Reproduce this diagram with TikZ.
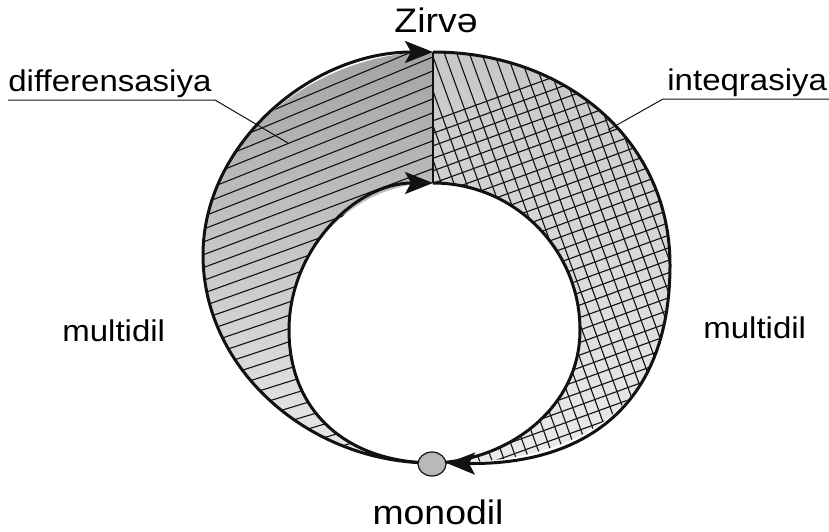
\documentclass[tikz,border=0pt]{standalone}
\usepackage{fontspec}
\setmainfont{Liberation Sans}
\usepackage{graphicx}
\usetikzlibrary{arrows.meta}
\definecolor{tinte}{HTML}{111111}
\definecolor{dunkel}{HTML}{A2A2A2}
\definecolor{mittel}{HTML}{C6C6C6}
\definecolor{hell}{HTML}{EBEBEB}
\newcommand{\breit}[1]{\scalebox{1.1}[1]{#1}}
\tikzset{
  kontur/.style={tinte,line width=1.5pt},
  teiler/.style={tinte,line width=1pt},
  schraff/.style={tinte,line width=0.55pt},
  pfeil/.style={-{Stealth[length=14pt,width=11pt,inset=3pt]}},
  hilf/.style={tinte,line width=0.5pt},
  beschr/.style={font=\fontsize{15}{18}\selectfont,inner sep=0pt,anchor=base west},
  titel/.style={font=\fontsize{17}{20}\selectfont,inner sep=0pt,anchor=base},
}

\begin{document}
\begin{tikzpicture}[x=0.5pt,y=-0.5pt]
  \useasboundingbox (0,0) rectangle (829,531);
  \coordinate (T) at (433,52);
  \coordinate (I) at (433,183);
  \coordinate (B) at (432,463);
  \coordinate (OL) at (203,255);
  \coordinate (OR) at (670,265);
  \coordinate (IL) at (289,330);
  \coordinate (IR) at (580,330);
  % linke Haelfte
  \begin{scope}
    \clip (T) .. controls (310,52) and (203,145) .. (OL) .. controls (203,370) and (310,463) .. (B)
      .. controls (345,462) and (289,410) .. (IL) .. controls (289,250) and (355,183) .. (I) -- cycle;
    \shade[top color=dunkel,bottom color=hell] (150,40) rectangle (440,470);
    \foreach \k in {0,...,36}
      \draw[schraff] (440,40+14*\k) -- (140,{40+14*\k+300*(0.42-0.005*\k)});
  \end{scope}
  % rechte Haelfte
  \begin{scope}
    \clip (T) .. controls (565,52) and (670,140) .. (OR) .. controls (670,410) and (580,465) .. (B)
      .. controls (505,462) and (580,410) .. (IR) .. controls (580,250) and (515,183) .. (I) -- cycle;
    \shade[top color=mittel,bottom color=hell] (430,40) rectangle (680,470);
    \foreach \k in {0,...,32} {
      \draw[schraff] (380,140+12.5*\k) -- ++(350,-127);
      \draw[schraff] (250+12.5*\k,0) -- ++(188.5,520);
    }
  \end{scope}
  \draw[kontur,pfeil] (B) .. controls (310,463) and (203,370) .. (OL) .. controls (203,145) and (310,52) .. (T);
  \draw[kontur,pfeil,shorten >=7.5pt] (T) .. controls (565,52) and (670,140) .. (OR) .. controls (670,410) and (580,465) .. (B);
  \draw[kontur,pfeil] (B) .. controls (345,462) and (289,410) .. (IL) .. controls (289,250) and (355,183) .. (I);
  \draw[kontur] (I) .. controls (515,183) and (580,250) .. (IR) .. controls (580,410) and (505,462) .. (B);
  \draw[teiler] (T) -- (I);
  \draw[tinte,fill=gray!55,line width=0.6pt] (432,464) ellipse [x radius=14,y radius=12];
  % Beschriftung
  \node[titel] (zirve) at (436,32) {\breit{Zirvə}};
  \node[titel] (mono) at (438,524) {\breit{monodil}};
  \node[beschr] (mlinks) at (62,341) {\breit{multidil}};
  \node[beschr] (mrechts) at (703,338) {\breit{multidil}};
  \node[beschr] (dif) at (8,91) {\breit{differensasiya}};
  \node[beschr] (int) at (667,90) {\breit{inteqrasiya}};
  \coordinate (d1) at (8,100);
  \coordinate (d2) at (215,100);
  \coordinate (d3) at (288,143);
  \coordinate (i1) at (829,99);
  \coordinate (i2) at (663,99);
  \coordinate (i3) at (608,130);
  \draw[hilf] (d1) -- (d2) -- (d3);
  \draw[hilf] (i1) -- (i2) -- (i3);
\end{tikzpicture}
\end{document}
